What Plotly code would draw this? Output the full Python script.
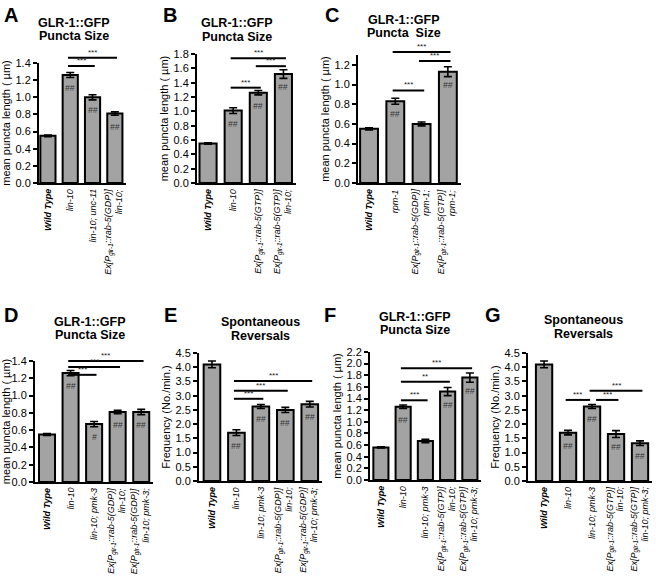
import plotly.graph_objects as go

W, H = 656, 577
FONT = "Arial, Liberation Sans, Helvetica, sans-serif"

# ---------------- data ----------------
WT = "<b>Wild Type</b>"
def ex(kind):
    return "Ex[P<sub>glr-1</sub>::rab-5(" + kind + ")]"

A_labels = [WT, "lin-10", "lin-10; unc-11", ex("GDP") + "<br>lin-10;"]
A_values = [0.55, 1.26, 1.00, 0.81]
A_errors = [0.01, 0.03, 0.03, 0.02]
A_marks = ["", "##", "##", "##"]
A_sig = [(1, 2, 1.365, "***"), (1, 3, 1.46, "***")]

B_labels = [WT, "lin-10", ex("GTP"), ex("GTP") + "<br>lin-10;"]
B_values = [0.55, 1.01, 1.26, 1.52]
B_errors = [0.01, 0.04, 0.03, 0.06]
B_marks = ["", "##", "##", "##"]
B_sig = [(1, 2, 1.33, "***"), (2, 3, 1.63, "***"), (1, 3, 1.74, "***")]

C_labels = [WT, "rpm-1", ex("GDP") + "<br>rpm-1;", ex("GTP") + "<br>rpm-1;"]
C_values = [0.55, 0.83, 0.60, 1.13]
C_errors = [0.01, 0.03, 0.02, 0.05]
C_marks = ["", "##", "", "##"]
C_sig = [(1, 2, 0.94, "***"), (2, 3, 1.24, "***"), (1, 3, 1.33, "***")]

D_labels = [WT, "lin-10", "lin-10; pmk-3", ex("GDP") + "<br>lin-10;", ex("GDP") + "<br>lin-10; pmk-3;"]
D_values = [0.55, 1.26, 0.67, 0.81, 0.81]
D_errors = [0.01, 0.03, 0.03, 0.02, 0.03]
D_marks = ["", "##", "#", "##", "##"]
D_sig = [(1, 2, 1.24, "***"), (1, 3, 1.33, "***"), (1, 4, 1.40, "***")]

E_labels = D_labels
E_values = [4.10, 1.70, 2.62, 2.50, 2.70]
E_errors = [0.12, 0.10, 0.07, 0.09, 0.10]
E_marks = ["", "##", "##", "##", "##"]
E_sig = [(1, 2, 2.89, "***"), (1, 3, 3.17, "***"), (1, 4, 3.52, "***")]

F_labels = [WT, "lin-10", "lin-10; pmk-3", ex("GTP") + "<br>lin-10;", ex("GTP") + "<br>lin-10; pmk-3;"]
F_values = [0.56, 1.26, 0.67, 1.52, 1.76]
F_errors = [0.01, 0.03, 0.03, 0.07, 0.08]
F_marks = ["", "##", "", "##", "##"]
F_sig = [(1, 2, 1.37, "***"), (1, 3, 1.69, "**"), (1, 4, 1.92, "***")]

G_labels = F_labels
G_values = [4.10, 1.70, 2.62, 1.65, 1.33]
G_errors = [0.12, 0.08, 0.07, 0.12, 0.08]
G_marks = ["", "##", "##", "##", "##"]
G_sig = [(1, 2, 2.85, "***"), (2, 3, 2.85, "***"), (2, 4, 3.17, "***")]

PUNCTA = ("GLR-1::GFP", "Puncta Size")
REV = ("Spontaneous", "Reversals")
YT_LEN = "mean puncta length ( µm)"
YT_FREQ = "Frequency (No./min.)"

panels = [
    ("A", A_labels, A_values, A_errors, A_marks, A_sig, PUNCTA, YT_LEN, 1.4, 0.2),
    ("B", B_labels, B_values, B_errors, B_marks, B_sig, PUNCTA, YT_LEN, 1.8, 0.2),
    ("C", C_labels, C_values, C_errors, C_marks, C_sig, ("GLR-1::GFP", "Puncta  Size"), YT_LEN, 1.3, 0.2),
    ("D", D_labels, D_values, D_errors, D_marks, D_sig, PUNCTA, YT_LEN, 1.4, 0.2),
    ("E", E_labels, E_values, E_errors, E_marks, E_sig, REV, YT_FREQ, 4.5, 0.5),
    ("F", F_labels, F_values, F_errors, F_marks, F_sig, PUNCTA, YT_LEN, 2.2, 0.2),
    ("G", G_labels, G_values, G_errors, G_marks, G_sig, REV, YT_FREQ, 4.5, 0.5),
]

# ---------------- positions (pixels) ----------------
POS = {
    "A": dict(x=(39, 126), y=(63, 183), x0=-0.40, letter=(2, 2), title=(74, 23, 36)),
    "B": dict(x=(197, 296), y=(54, 183), x0=-0.44, letter=(161, 2), title=(237, 23, 37)),
    "C": dict(x=(358, 461), y=(55, 183), x0=-0.42, letter=(323, 2), title=(404, 20, 33)),
    "D": dict(x=(35, 153), y=(361, 482), x0=-0.51, letter=(2, 302), title=(90, 322, 335)),
    "E": dict(x=(199, 322), y=(353, 481), x0=-0.53, letter=(162, 302), title=(260, 322, 335.5)),
    "F": dict(x=(370, 481), y=(352, 480), x0=-0.49, letter=(322, 302), title=(415, 317, 330)),
    "G": dict(x=(528, 652), y=(353, 481), x0=-0.67, letter=(483, 302), title=(583, 320, 333.5)),
}
BAR_COLOR = "#a3a3a3"
BAR_WIDTH = 0.68
LINE_GAP = 10  # px between the two lines of a rotated label

fig = go.Figure()
layout = dict(
    width=W, height=H, margin=dict(l=0, r=0, t=0, b=0),
    paper_bgcolor="white", plot_bgcolor="white", showlegend=False,
    font=dict(family=FONT, color="black"),
    template="none",
)
shapes, annotations = [], []

for k, (key, labels, values, errors, marks, sig, title, ytitle, ymax, dtick) in enumerate(panels):
    n = k + 1
    sfx = "" if n == 1 else str(n)
    p = POS[key]
    n_cat = len(values)
    xr = (p["x0"], n_cat - 0.5)
    cats = list(range(n_cat))

    fig.add_trace(go.Bar(
        x=cats, y=values, width=BAR_WIDTH,
        marker=dict(color=BAR_COLOR, line=dict(color="black", width=2)),
        error_y=dict(type="data", array=errors, visible=True, color="black", thickness=1.6, width=4),
        xaxis="x" + sfx, yaxis="y" + sfx, hoverinfo="skip",
    ))

    layout["xaxis" + sfx] = dict(
        domain=[p["x"][0] / W, p["x"][1] / W], anchor="y" + sfx,
        range=list(xr), tickmode="array", tickvals=cats, showticklabels=False,
        ticks="", showline=True, linecolor="black", linewidth=2,
        showgrid=False, zeroline=False, automargin=False,
    )
    layout["yaxis" + sfx] = dict(
        domain=[1 - p["y"][1] / H, 1 - p["y"][0] / H], anchor="x" + sfx,
        range=[0, ymax], dtick=dtick, tick0=0, tickformat=".1f",
        ticks="outside", ticklen=4, tickwidth=1.5, tickcolor="black",
        showline=True, linecolor="black", linewidth=2,
        showgrid=False, zeroline=False, automargin=False,
        tickfont=dict(family=FONT, size=11, color="black"),
        title=dict(text=ytitle, font=dict(family=FONT, size=11, color="black"), standoff=3),
    )

    def xd(c):
        return (c - xr[0]) / (xr[1] - xr[0])

    # rotated category labels (each line right-aligned at the axis)
    for c, lab in enumerate(labels):
        lines = lab.split("<br>")
        m = len(lines)
        for li, line in enumerate(lines):
            annotations.append(dict(
                text="<i>" + line + "</i>", xref="x" + sfx, yref="y" + sfx + " domain",
                x=c, y=0, xanchor="center", yanchor="top", textangle=-90,
                xshift=(li - (m - 1) / 2) * LINE_GAP - (1 if m > 1 else 0), yshift=-4,
                showarrow=False, font=dict(family=FONT, size=9, color="black")))

    # significance brackets
    for (i, j, yv, lab) in sig:
        a, b = i - 0.1, j + 0.1
        for (i2, j2, yv2, _) in sig:
            if yv2 == yv and (i2, j2) != (i, j):
                if j2 == i:
                    a = i + 0.17
                if i2 == j:
                    b = j - 0.08
        shapes.append(dict(type="line", xref="x" + sfx + " domain", yref="y" + sfx + " domain",
                           x0=xd(a), x1=xd(b), y0=yv / ymax, y1=yv / ymax,
                           line=dict(color="black", width=2)))
        annotations.append(dict(text=lab, xref="x" + sfx + " domain", yref="y" + sfx + " domain",
                                x=xd((a + b) / 2), y=yv / ymax, xanchor="center", yanchor="bottom",
                                yshift=-1, showarrow=False,
                                font=dict(family=FONT, size=8, color="#222")))

    # marks inside bars
    for c, (v, mk) in enumerate(zip(values, marks)):
        if mk:
            annotations.append(dict(text="<i>" + mk + "</i>", xref="x" + sfx, yref="y" + sfx,
                                    x=c, y=v, xanchor="center", yanchor="top", yshift=-6,
                                    showarrow=False, font=dict(family=FONT, size=8.5, color="#333")))

    # panel letter
    lx, ly = p["letter"]
    annotations.append(dict(text="<b>" + key + "</b>", xref="paper", yref="paper",
                            x=lx / W, y=1 - ly / H, xanchor="left", yanchor="top",
                            showarrow=False, font=dict(family=FONT, size=20, color="black")))
    # title lines
    tx, t1, t2 = p["title"]
    for line, ty in zip(title, (t1, t2)):
        annotations.append(dict(text="<b>" + line + "</b>", xref="paper", yref="paper",
                                x=tx / W, y=1 - ty / H, xanchor="center", yanchor="middle",
                                showarrow=False, font=dict(family=FONT, size=12.5, color="black")))

layout["shapes"] = shapes
layout["annotations"] = annotations
fig.update_layout(**layout)
fig.write_html("out.html", config={"displayModeBar": False},
               post_script="document.body.style.margin='0px';")
